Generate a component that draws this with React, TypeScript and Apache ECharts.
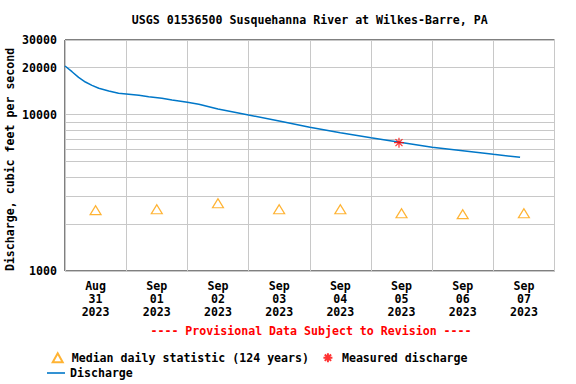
import React, { useEffect, useRef } from "react";
import * as echarts from "echarts";

// ---- data ----
const dayCategories = [
  "2023-08-31", "2023-09-01", "2023-09-02", "2023-09-03",
  "2023-09-04", "2023-09-05", "2023-09-06", "2023-09-07",
];
const medianCfs = [2450, 2485, 2710, 2480, 2480, 2340, 2310, 2340];

const dischargeTimes = [
  "2023-08-31 00:00", "2023-08-31 02:45", "2023-08-31 05:20", "2023-08-31 08:00",
  "2023-08-31 10:35", "2023-08-31 13:15", "2023-08-31 17:10", "2023-08-31 21:00",
  "2023-09-01 00:00", "2023-09-01 05:00", "2023-09-01 08:50", "2023-09-01 14:00",
  "2023-09-01 18:00", "2023-09-02 00:00", "2023-09-02 04:30", "2023-09-02 12:00",
  "2023-09-03 00:00", "2023-09-03 12:00", "2023-09-04 00:00", "2023-09-04 12:00",
  "2023-09-05 00:00", "2023-09-05 07:30", "2023-09-06 00:00", "2023-09-06 12:00",
  "2023-09-07 00:00", "2023-09-07 10:30",
];
const dischargeCfs = [
  20450, 18810, 17320, 16160, 15390, 14730, 14160, 13690,
  13545, 13290, 13020, 12720, 12400, 11990, 11640, 10860,
  9940, 9100, 8300, 7660, 7120, 6810, 6180, 5880, 5575, 5330,
];

const measuredTimes = ["2023-09-05 11:00"];
const measuredCfs = [6614];

const yTickLabels = [1000, 10000, 20000, 30000];
const extraGridValues = [2000, 3000, 4000, 5000, 6000, 7000, 8000, 9000, 20000];
const monthNames = ["Jan", "Feb", "Mar", "Apr", "May", "Jun", "Jul", "Aug", "Sep", "Oct", "Nov", "Dec"];

const TITLE = "USGS 01536500 Susquehanna River at Wilkes-Barre, PA";
const Y_NAME = "Discharge, cubic feet per second";
const PROVISIONAL = "---- Provisional Data Subject to Revision ----";
const S_MEDIAN = "Median daily statistic (124 years)";
const S_MEASURED = "Measured discharge";
const S_DISCHARGE = "Discharge";

const FONT = "DejaVu Sans Mono";
const FS = 11.6;
const GRID_COLOR = "#c8c8c8";
const LINE_COLOR = "#0077c8";
const TRI_COLOR = "#ffa000";
const STAR_PATH = "path://M5,0L5,10M0,5L10,5M1.5,1.5L8.5,8.5M8.5,1.5L1.5,8.5";

function buildOption(): any {
  return {
    animation: false,
    backgroundColor: "#fff",
    textStyle: { fontFamily: FONT, fontWeight: "bold", fontSize: FS, color: "#000" },
    title: {
      text: TITLE,
      left: 309.75,
      textAlign: "center",
      top: 13.5,
      padding: 0,
      textStyle: { fontFamily: FONT, fontWeight: "bold", fontSize: 11.6, color: "#000" },
    },
    grid: {
      left: 65,
      right: 21.5,
      top: 40,
      bottom: 113,
      show: true,
      borderColor: "#000",
      borderWidth: 1,
      backgroundColor: "transparent",
      containLabel: false,
    },
    legend: [
      {
        data: [S_MEDIAN, S_MEASURED],
        left: 51.7,
        top: 351.7,
        padding: 0,
        itemWidth: 10,
        itemHeight: 9,
        itemGap: 13.4,
        selectedMode: false,
        textStyle: { fontFamily: FONT, fontWeight: "bold", fontSize: FS, color: "#000", padding: [0, 0, 0, 4] },
      },
      {
        data: [{ name: S_DISCHARGE, icon: "rect" }],
        left: 47,
        top: 367,
        padding: 0,
        itemWidth: 18,
        itemHeight: 1.6,
        selectedMode: false,
        textStyle: { fontFamily: FONT, fontWeight: "bold", fontSize: FS, color: "#000" },
      },
    ],
    xAxis: [
      {
        type: "category",
        data: dayCategories,
        boundaryGap: true,
        axisLine: { show: false },
        axisTick: { show: false },
        splitLine: { show: true, interval: 0, lineStyle: { color: GRID_COLOR, width: 1 } },
        axisLabel: {
          interval: 0,
          margin: 8,
          lineHeight: 13,
          fontFamily: FONT,
          fontWeight: "bold",
          fontSize: FS,
          color: "#000",
          formatter: (v: string) => {
            const [y, m, d] = v.split("-");
            return `${monthNames[parseInt(m, 10) - 1]}\n${d}\n${y}`;
          },
        },
      },
      {
        type: "time",
        min: "2023-08-31 00:00",
        max: "2023-09-08 00:00",
        show: false,
        splitLine: { show: false },
      },
    ],
    yAxis: {
      type: "log",
      logBase: 10,
      min: 1000,
      max: 30000,
      axisLine: { show: false },
      axisTick: { show: false },
      splitLine: { show: true, lineStyle: { color: GRID_COLOR, width: 1 } },
      minorTick: { show: false },
      axisLabel: {
        margin: 8,
        fontFamily: FONT,
        fontWeight: "bold",
        fontSize: FS,
        color: "#000",
        formatter: (v: number) => {
          const r = Math.round(v);
          return yTickLabels.includes(r) ? String(r) : "";
        },
      },
    },
    graphic: [
      {
        type: "text",
        x: 10,
        y: 159.4,
        rotation: Math.PI / 2,
        style: {
          text: Y_NAME,
          fill: "#000",
          font: `bold ${FS}px "${FONT}"`,
          textAlign: "center",
          textVerticalAlign: "middle",
        },
      },
      {
        type: "text",
        x: 311,
        y: 331,
        style: {
          text: PROVISIONAL,
          fill: "#ff0000",
          font: `bold ${FS}px "${FONT}"`,
          textAlign: "center",
          textVerticalAlign: "middle",
        },
      },
    ],
    series: [
      {
        name: S_MEDIAN,
        type: "scatter",
        xAxisIndex: 0,
        yAxisIndex: 0,
        symbol: "triangle",
        symbolSize: [11, 9],
        itemStyle: { color: "rgba(0,0,0,0)", borderColor: TRI_COLOR, borderWidth: 1.2 },
        data: medianCfs,
        z: 3,
        markLine: {
          silent: true,
          symbol: ["none", "none"],
          animation: false,
          lineStyle: { color: GRID_COLOR, width: 1, type: "solid" },
          label: { show: false },
          emphasis: { disabled: true },
          data: extraGridValues.map((v) =>
            yTickLabels.includes(v)
              ? {
                  yAxis: v,
                  label: {
                    show: true,
                    position: "start",
                    distance: 8,
                    formatter: String(v),
                    fontFamily: FONT,
                    fontWeight: "bold",
                    fontSize: FS,
                    color: "#000",
                  },
                }
              : { yAxis: v }
          ),
        },
      },
      {
        name: S_MEASURED,
        type: "scatter",
        xAxisIndex: 1,
        yAxisIndex: 0,
        symbol: STAR_PATH,
        symbolSize: 10,
        itemStyle: { color: "rgba(0,0,0,0)", borderColor: "#ff0000", borderWidth: 1.2 },
        data: measuredTimes.map((t, i) => [t, measuredCfs[i]]),
        z: 6,
      },
      {
        name: S_DISCHARGE,
        type: "line",
        xAxisIndex: 1,
        yAxisIndex: 0,
        symbol: "none",
        showSymbol: false,
        lineStyle: { color: LINE_COLOR, width: 1.5 },
        itemStyle: { color: LINE_COLOR },
        data: dischargeTimes.map((t, i) => [t, dischargeCfs[i]]),
        z: 5,
      },
    ],
  };
}

export default function App() {
  const ref = useRef<HTMLDivElement>(null);
  useEffect(() => {
    if (!ref.current) return;
    const chart = echarts.init(ref.current, null, { renderer: "svg" });
    chart.setOption(buildOption());
    return () => chart.dispose();
  }, []);
  return (
    <div
      ref={ref}
      style={{ position: "absolute", left: 0, top: 0, width: 576, height: 384, background: "#fff" }}
    />
  );
}
